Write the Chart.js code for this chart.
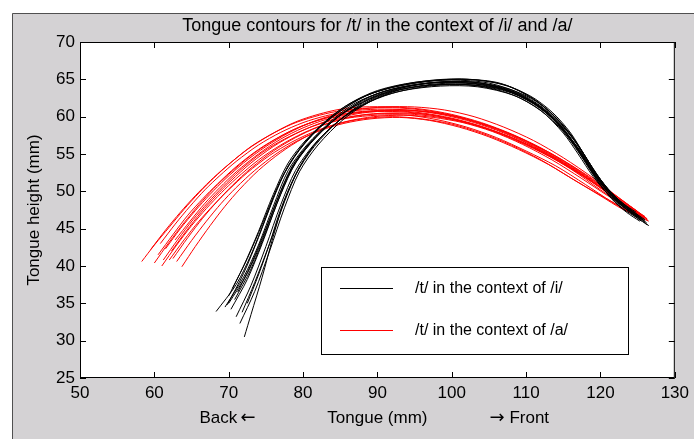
<!DOCTYPE html>
<html>
<head>
<meta charset="utf-8">
<script src="https://cdn.jsdelivr.net/npm/chart.js@4"></script>
<style>
  html, body { margin: 0; padding: 0; background: #fff; }
  #wrap { width: 694px; height: 439px; }
</style>
</head>
<body>
<div id="wrap"><canvas id="chart" width="694" height="439"></canvas></div>
<script>
// tongue contours, /t/ in the context of /i/  (x = tongue mm, y = height mm)
const i1 = [[68.3,33.9],[71,37.5],[73,41.5],[75,46.5],[77,51.5],[79.5,55.5],[83,59.3],[86,61.6],[90,63.5],[95,64.6],[100,64.9],[105,64.5],[110,62.8],[113,60.8],[116,57.6],[118,54.6],[120,51.6],[122,49.2],[124,47.4],[125.8,46.2]];
const i2 = [[69.5,34.5],[72,38.5],[74,42.8],[76,48],[78,52.8],[80.5,56.2],[84,59.6],[87,61.8],[91,63.4],[96,64.4],[101,64.6],[106,64],[110,62.4],[113,60.3],[115.5,57.4],[117.5,54.6],[119.5,51.8],[121.5,49.4],[123.5,47.6],[125,46.6]];
const i3 = [[70,35],[72.5,39],[74.5,43.5],[76.5,48.8],[78.5,53.3],[81,56.6],[84,59.4],[88,62.2],[92,63.7],[97,64.5],[102,64.5],[107,63.6],[111,61.7],[114,59.3],[116.5,56.4],[118.5,53.4],[120.5,50.6],[122.5,48.6],[124.5,47],[126,46]];
const i4 = [[70.3,34.2],[72.5,38.2],[74.5,43],[76.5,48.4],[78.5,53],[81,56.4],[84.5,59.8],[88,61.9],[92,63.4],[97,64.2],[102,64.3],[107,63.6],[111,61.8],[114,59.5],[116.5,56.2],[118.5,53],[120.5,50.2],[122.5,48.3],[124.5,46.9],[126.5,45.4]];
const i5 = [[70.8,35.5],[73,39.6],[75,44.5],[77,49.6],[79,53.8],[81.5,57],[85,60.2],[89,62.5],[93,63.8],[98,64.6],[103,64.6],[108,63.5],[111.5,61.6],[114.5,59],[117,55.6],[119,52.4],[121,50],[123,48.2],[125,46.8]];
const i6 = [[71,33.2],[73,37.4],[75,42.6],[77,48.2],[79,52.8],[81.5,56.3],[85,59.6],[89,62],[93,63.4],[98,64.2],[103,64.2],[108,63.2],[112,61.2],[114.5,58.8],[117,55.8],[119,52.8],[121,50],[123,48],[125,46.6],[126.2,45.8]];
const i7 = [[71.5,32.3],[73.5,36.6],[75.5,42],[77.5,47.8],[79.5,52.6],[82,56.2],[85.5,59.7],[89,62],[93,63.6],[98,64.4],[103,64.4],[108,63.4],[112,61.3],[115,58.4],[117.5,55],[119.5,51.8],[121.5,49.3],[123.5,47.6],[125.5,46.3]];
const i8 = [[72.1,30.5],[73,33.5],[74.5,38.5],[76,44],[77.5,48.8],[79.5,53.2],[82,56.8],[85.5,60],[89,62.4],[94,64],[99,64.7],[104,64.5],[109,63],[112.5,60.7],[115.5,57.6],[117.5,54.8],[119.5,52],[121.5,49.6],[123.5,47.8],[125,46.8]];
const i9 = [[70,36],[72,40],[74,44.6],[76,49.6],[78,53.8],[80.5,57],[84,60.2],[87.5,62.4],[91.5,63.8],[96,64.6],[101,65],[106,64.6],[110.5,62.8],[113.5,60.6],[116,57.8],[118,54.6],[120,51.6],[122,49.3],[124,47.6],[125.5,46.5]];
const i10 = [[69.8,34.8],[72,39],[74,43.8],[76,49],[78,53.4],[80.5,56.8],[84,60],[88,62.6],[92,63.9],[97,64.8],[102,65],[107,64.3],[111,62.4],[114,59.8],[116.5,56.8],[118.5,53.6],[120.5,50.8],[122.5,48.8],[124.5,47.2],[126,46.2]];
const i11 = [[71.2,36.5],[73,40.2],[75,45],[77,50],[79,54],[82,57.6],[85.5,60.6],[89,62.7],[93,63.9],[98,64.6],[103,64.6],[108,63.6],[112,61.4],[115,58.6],[117.5,55.4],[119.5,52.2],[121.5,49.6],[123.5,47.6],[125.5,46]];
const i12 = [[72.5,35],[74,38.8],[75.5,43],[77,47.6],[79,52.2],[81.5,56],[85,59.6],[89,62.2],[93,63.6],[98,64.3],[103,64.2],[108,63],[112,60.8],[115,57.8],[117,55],[119,52],[121,49.6],[123,47.7],[125,46.4],[126.3,45.5]];
const i13 = [[70.5,37],[72.5,41],[74.5,45.6],[76.5,50.4],[78.5,54.2],[81,57.4],[84.5,60.4],[88.5,62.8],[92.5,64.1],[97.5,64.9],[102.5,65],[107.5,64.1],[111.5,62],[114.5,59.4],[117,56.2],[119,53],[121,50.3],[123,48.4],[124.8,47.2]];
const i14 = [[71.8,33.8],[73.5,37.8],[75.5,43],[77.5,48.6],[79.5,53.2],[82,56.8],[85.5,60],[89.5,62.3],[93.5,63.5],[98.5,64.1],[103.5,64],[108.5,62.8],[112,60.8],[115,58],[117.5,54.8],[119.5,51.6],[121.5,49],[123.5,47.2],[125.3,46]];

// tongue contours, /t/ in the context of /a/
const a1 = [[58.3,40.6],[60,42.8],[62,45.2],[64,47.6],[66,49.8],[68,51.8],[70,53.6],[73,56],[76,57.8],[79,59.3],[82,60.3],[85,61],[88,61.3],[92,61.3],[96,61],[100,60.3],[104,59.2],[108,57.7],[112,55.8],[116,53.5],[120,50.8],[123,48.7],[125.5,46.9]];
const a2 = [[60,40.4],[62,43.2],[64,45.8],[66,48.2],[68,50.4],[70,52.3],[73,54.8],[76,56.8],[79,58.4],[82,59.5],[85,60.3],[88,60.7],[92,60.8],[96,60.5],[100,59.8],[104,58.7],[108,57.2],[112,55.3],[116,53],[120,50.2],[123,48.2],[125.8,46.5]];
const a3 = [[60.5,41.5],[62.5,44.2],[64.5,46.8],[66.5,49],[68.5,51],[71,53.3],[74,55.6],[77,57.4],[80,58.8],[83,59.8],[86,60.4],[90,60.7],[94,60.6],[98,60.1],[102,59.2],[106,57.9],[110,56.2],[114,54.2],[118,51.8],[121.5,49.4],[124.5,47.4],[126.3,46.3]];
const a4 = [[61,40],[63,42.8],[65,45.4],[67,47.7],[69,49.8],[71,51.7],[74,54.2],[77,56.2],[80,57.8],[83,59],[86,59.8],[90,60.2],[94,60.2],[98,59.6],[102,58.6],[106,57.2],[110,55.4],[114,53.4],[118,50.9],[121.5,48.6],[124.5,46.9],[126.5,46]];
const a5 = [[61.5,42.3],[63.5,45],[65.5,47.4],[67.5,49.6],[69.5,51.6],[72,53.8],[75,56],[78,57.8],[81,59.2],[84,60.2],[87,60.9],[91,61.3],[95,61.3],[99,60.9],[103,60],[107,58.6],[111,56.8],[115,54.5],[119,51.8],[122,49.5],[125,47.3]];
const a6 = [[62,40.8],[64,43.5],[66,46],[68,48.2],[70,50.2],[72.5,52.5],[75.5,54.8],[78.5,56.6],[81.5,58],[84.5,59],[88,59.7],[92,60],[96,59.7],[100,59],[104,57.8],[108,56.2],[112,54.2],[116,51.8],[120,49.4],[123,47.6],[125.8,46.4]];
const a7 = [[62.5,41],[64.5,43.8],[66.5,46.4],[68.5,48.7],[70.5,50.8],[73,53.1],[76,55.4],[79,57.2],[82,58.6],[85,59.6],[88.5,60.3],[92.5,60.5],[96.5,60.3],[100.5,59.6],[104.5,58.5],[108.5,57],[112.5,55.1],[116.5,52.8],[120.5,50.2],[123.5,48.1],[126,46.6]];
const a8 = [[63.7,39.9],[65.5,42.6],[67.5,45.4],[69.5,48],[71.5,50.3],[74,52.8],[77,55.2],[80,57.1],[83,58.5],[86,59.4],[89.5,60],[93.5,60.2],[97.5,59.9],[101.5,59.2],[105.5,58],[109.5,56.3],[113.5,54.2],[117.5,51.7],[121,49.4],[124,47.6],[126.2,46.4]];
const a9 = [[60.8,43],[62.8,45.6],[64.8,48],[66.8,50.2],[68.8,52.1],[71,54],[74,56.2],[77,57.9],[80,59.2],[83,60.1],[86,60.7],[90,61],[94,60.9],[98,60.4],[102,59.5],[106,58.2],[110,56.5],[114,54.4],[118,51.9],[121.5,49.4],[124.5,47.2],[126,46.4]];
const a10 = [[62.3,42],[64.3,44.7],[66.3,47.2],[68.3,49.4],[70.3,51.4],[73,53.8],[76,56],[79,57.7],[82,59],[85,59.9],[88,60.5],[92,60.8],[96,60.7],[100,60.1],[104,59],[108,57.5],[112,55.6],[116,53.3],[120,50.6],[123,48.5],[125.5,46.8]];
const a11 = [[61.2,40.8],[63.2,43.6],[65.2,46.2],[67.2,48.5],[69.2,50.6],[71.5,52.8],[74.5,55.2],[77.5,57],[80.5,58.4],[83.5,59.4],[87,60.1],[91,60.4],[95,60.3],[99,59.8],[103,58.9],[107,57.6],[111,55.9],[115,53.8],[119,51.2],[122.5,48.7],[125,47],[126.4,46.1]];
const a12 = [[63,40.6],[65,43.4],[67,46],[69,48.4],[71,50.5],[73.5,52.8],[76.5,55.1],[79.5,56.9],[82.5,58.2],[85.5,59.1],[89,59.7],[93,59.9],[97,59.5],[101,58.6],[105,57.3],[109,55.6],[113,53.6],[117,51.2],[120.5,49.2],[123.5,47.5],[125.8,46.3]];
const a13 = [[59.5,42.2],[61.5,44.8],[63.5,47.2],[65.5,49.4],[67.5,51.4],[69.5,53.2],[72.5,55.6],[75.5,57.5],[78.5,59],[81.5,60],[84.5,60.7],[88,61.1],[92,61.2],[96,60.9],[100,60.2],[104,59.1],[108,57.6],[112,55.7],[116,53.4],[120,50.7],[123,48.6],[125.6,46.8]];
const a14 = [[62.8,43.5],[64.8,46],[66.8,48.4],[68.8,50.5],[71,52.6],[74,55],[77,57],[80,58.5],[83,59.6],[86,60.3],[89.5,60.8],[93.5,60.9],[97.5,60.6],[101.5,59.8],[105.5,58.6],[109.5,57],[113.5,55],[117.5,52.6],[121,50.2],[124,48],[126,46.6]];

const contextI = [i1, i2, i3, i4, i5, i6, i7, i8, i9, i10, i11, i12, i13, i14];
const contextA = [a1, a2, a3, a4, a5, a6, a7, a8, a9, a10, a11, a12, a13, a14];
const seriesLabels = ["/t/ in the context of /i/", "/t/ in the context of /a/"];
const xTicks = [50, 60, 70, 80, 90, 100, 110, 120, 130];
const yTicks = [25, 30, 35, 40, 45, 50, 55, 60, 65, 70];

const FONT = "'Liberation Sans', Arial, sans-serif";
const GREY = "#d4d2d4";

function toDataset(curve, label, color) {
  return {
    label: label,
    data: curve.map(p => ({ x: p[0], y: p[1] })),
    borderColor: color,
    borderWidth: 1,
    pointRadius: 0,
    showLine: true,
    fill: false,
    tension: 0.3
  };
}

const datasets = [];
contextI.forEach(c => datasets.push(toDataset(c, seriesLabels[0], "#000000")));
contextA.forEach(c => datasets.push(toDataset(c, seriesLabels[1], "#ff0000")));

// grey matlab-like figure behind the axes
const figurePlugin = {
  id: "figure",
  beforeDraw(chart) {
    const ctx = chart.ctx, w = chart.width, h = chart.height, a = chart.chartArea;
    ctx.save();
    ctx.fillStyle = "#ffffff";
    ctx.fillRect(0, 0, w, h);
    ctx.fillStyle = GREY;
    ctx.fillRect(12, 13, w - 12, h - 13);
    ctx.strokeStyle = "#505050";
    ctx.lineWidth = 1;
    ctx.beginPath();
    ctx.moveTo(12.5, h);
    ctx.lineTo(12.5, 13.5);
    ctx.lineTo(w, 13.5);
    ctx.stroke();
    ctx.fillStyle = "#ffffff";
    ctx.fillRect(a.left, a.top, a.right - a.left, a.bottom - a.top);
    ctx.restore();
  }
};

// box, inward ticks, title, x label and legend
const axesPlugin = {
  id: "axesBox",
  afterDraw(chart) {
    const ctx = chart.ctx, a = chart.chartArea;
    const xs = chart.scales.x, ys = chart.scales.y;
    const cx = (a.left + a.right) / 2;
    ctx.save();
    ctx.strokeStyle = "#000";
    ctx.lineWidth = 1;
    ctx.strokeRect(a.left + 0.5, a.top + 0.5, a.right - a.left - 1, a.bottom - a.top - 1);
    ctx.beginPath();
    xs.ticks.forEach(t => {
      const px = Math.round(xs.getPixelForValue(t.value)) + 0.5;
      ctx.moveTo(px, a.bottom); ctx.lineTo(px, a.bottom - 6);
      ctx.moveTo(px, a.top); ctx.lineTo(px, a.top + 6);
    });
    ys.ticks.forEach(t => {
      const py = Math.round(ys.getPixelForValue(t.value)) + 0.5;
      ctx.moveTo(a.left, py); ctx.lineTo(a.left + 6, py);
      ctx.moveTo(a.right, py); ctx.lineTo(a.right - 6, py);
    });
    ctx.stroke();

    // title
    ctx.fillStyle = "#000";
    ctx.font = "18px " + FONT;
    ctx.textAlign = "center";
    ctx.textBaseline = "middle";
    ctx.fillText("Tongue contours for /t/ in the context of /i/ and /a/", cx, 26);

    // x label in three parts, arrows from DejaVu (wider glyphs)
    const ty = 418;
    ctx.font = "17px " + FONT;
    ctx.fillText("Tongue (mm)", cx, ty);
    ctx.textAlign = "left";
    ctx.fillText("Back", cx - 178, ty);
    ctx.font = "18px 'DejaVu Sans'";
    ctx.fillText("\u2190", cx - 137, ty);
    ctx.fillText("\u2192", cx + 112, ty);
    ctx.font = "17px " + FONT;
    ctx.fillText("Front", cx + 132, ty);

    // legend
    const lx = a.left + 241, ly = a.top + 225, lw = 307, lh = 87;
    ctx.fillStyle = "#fff";
    ctx.fillRect(lx, ly, lw, lh);
    ctx.strokeStyle = "#000";
    ctx.strokeRect(lx + 0.5, ly + 0.5, lw, lh);
    const firsts = [chart.data.datasets[0], chart.data.datasets[contextI.length]];
    ctx.font = "16px " + FONT;
    ctx.textAlign = "left";
    firsts.forEach((ds, k) => {
      const yy = ly + 21 + k * 42 + 0.5;
      ctx.strokeStyle = ds.borderColor;
      ctx.beginPath();
      ctx.moveTo(lx + 19, yy); ctx.lineTo(lx + 72, yy);
      ctx.stroke();
      ctx.fillStyle = "#000";
      ctx.fillText(ds.label, lx + 94, yy);
    });
    ctx.restore();
  }
};

new Chart(document.getElementById("chart"), {
  type: "scatter",
  data: { datasets: datasets },
  options: {
    responsive: false,
    animation: false,
    layout: { padding: { top: 42, right: 17, left: 0, bottom: 0 } },
    plugins: {
      legend: { display: false },
      tooltip: { enabled: false },
      title: { display: false }
    },
    scales: {
      x: {
        type: "linear",
        min: 50, max: 130,
        afterBuildTicks: s => { s.ticks = xTicks.map(v => ({ value: v })); },
        afterFit: s => { s.height = 61; },
        grid: { display: false, drawTicks: false },
        border: { display: false },
        ticks: { color: "#000", font: { family: FONT, size: 17 }, padding: 5, maxRotation: 0 },
        title: { display: false }
      },
      y: {
        type: "linear",
        min: 25, max: 70,
        afterBuildTicks: s => { s.ticks = yTicks.map(v => ({ value: v })); },
        afterFit: s => { s.width = 80; },
        grid: { display: false, drawTicks: false },
        border: { display: false },
        ticks: { color: "#000", font: { family: FONT, size: 17 }, padding: 5 },
        title: {
          display: true,
          text: "Tongue height (mm)",
          color: "#000",
          font: { family: FONT, size: 17 },
          padding: { top: 24, bottom: 0 }
        }
      }
    }
  },
  plugins: [figurePlugin, axesPlugin]
});
</script>
</body>
</html>
